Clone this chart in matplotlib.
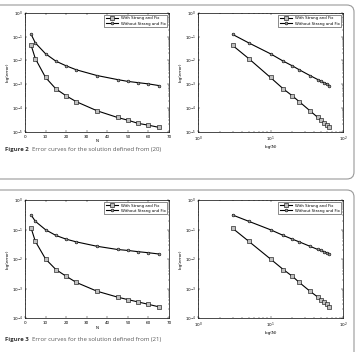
import matplotlib
matplotlib.use("Agg")
import matplotlib.pyplot as plt
from matplotlib.patches import FancyBboxPatch
from matplotlib.ticker import LogLocator, NullFormatter, MultipleLocator

N = [3, 5, 10, 15, 20, 25, 35, 45, 50, 55, 60, 65]
fig2_with = [4.3e-2, 1.2e-2, 1.9e-3, 6.3e-4, 3.2e-4, 1.8e-4, 7.5e-5, 3.9e-5, 3.0e-5, 2.2e-5, 1.85e-5, 1.5e-5]
fig2_without = [1.25e-1, 5.5e-2, 1.9e-2, 9.3e-3, 5.9e-3, 4.0e-3, 2.3e-3, 1.55e-3, 1.3e-3, 1.15e-3, 1.02e-3, 8.7e-4]
fig3_with = [1.1e-1, 4.0e-2, 1.0e-2, 4.4e-3, 2.6e-3, 1.6e-3, 8.1e-4, 5.1e-4, 4.2e-4, 3.5e-4, 2.9e-4, 2.4e-4]
fig3_without = [3.1e-1, 1.9e-1, 9.8e-2, 6.3e-2, 4.7e-2, 3.8e-2, 2.7e-2, 2.1e-2, 1.95e-2, 1.77e-2, 1.63e-2, 1.48e-2]
labels = ["With Strang and Fix", "Without Strang and Fix"]
captions = [("Figure 2", "Error curves for the solution defined from (20)"),
            ("Figure 3", "Error curves for the solution defined from (21)")]

W, H = 361, 352
fig = plt.figure(figsize=(W / 100, H / 100), dpi=100)
plt.rcParams['font.family'] = ['DejaVu Sans']

def fx(px):
    return px / W

def fy(py):
    return 1 - py / H

# cards
for (top, bottom) in [(5, 179), (190, 370)]:
    card = FancyBboxPatch((fx(-10), fy(bottom)), fx(364), (bottom - top) / H,
                          boxstyle="round,pad=0,rounding_size=0.02",
                          transform=fig.transFigure, fill=False,
                          edgecolor='0.6', linewidth=0.8, zorder=0)
    fig.patches.append(card)

def style(ax, logx):
    ax.set_yscale('log')
    if logx:
        ax.set_xscale('log')
        ax.set_xlim(1, 100)
        ax.xaxis.set_minor_locator(LogLocator(base=10, subs=range(2, 10)))
        ax.xaxis.set_minor_formatter(NullFormatter())
        ax.set_xlabel('log(N)', fontsize=3, labelpad=0.5)
    else:
        ax.set_xlim(0, 70)
        ax.xaxis.set_major_locator(MultipleLocator(10))
        ax.set_xlabel('N', fontsize=3, labelpad=0.5)
    ax.yaxis.set_minor_locator(LogLocator(base=10, subs=range(2, 10)))
    ax.yaxis.set_minor_formatter(NullFormatter())
    ax.set_ylabel('log(error)', fontsize=3, labelpad=1)
    ax.tick_params(which='both', direction='in', top=True, right=True,
                   labelsize=3, width=0.3)
    ax.tick_params(axis='x', pad=2.2)
    ax.tick_params(axis='y', pad=1.5)
    ax.tick_params(which='major', length=1.5)
    ax.tick_params(which='minor', length=0.8)
    for s in ax.spines.values():
        s.set_linewidth(0.5)

def plot(ax, yw, ywo):
    ax.plot(N, yw, '-s', color='black', lw=0.8, ms=2.8, mfc='0.75', mec='black', mew=0.4, label=labels[0])
    ax.plot(N, ywo, '-o', color='black', lw=0.8, ms=2.0, mfc='0.6', mec='black', mew=0.4, label=labels[1])
    leg = ax.legend(loc='upper right', fontsize=2.8, frameon=True, fancybox=False,
                    edgecolor='black', borderpad=0.4, handlelength=3, labelspacing=0.3)
    leg.get_frame().set_linewidth(0.4)

panels = [
    (13, 131.5, fig2_with, fig2_without, (1e-5, 1)),
    (200, 318, fig3_with, fig3_without, (1e-4, 1)),
]
for i, (top, bottom, yw, ywo, ylim) in enumerate(panels):
    for left, right, logx in [(25, 169, False), (198, 343, True)]:
        ax = fig.add_axes([fx(left), fy(bottom), fx(right - left), (bottom - top) / H])
        plot(ax, yw, ywo)
        style(ax, logx)
        ax.set_ylim(*ylim)
    cy = fy(149 if i == 0 else 339)
    t = fig.text(fx(5), cy, captions[i][0] + "  ", fontsize=4.3, fontweight='bold',
                 va='center', ha='left', color='0.2', family='Open Sans')
    fig.canvas.draw()
    bb = t.get_window_extent()
    fig.text(bb.x1 / (W), cy, captions[i][1], fontsize=4.3, va='center', ha='left',
             color='0.35', family='Open Sans')

fig.savefig('out.png', dpi=100)
